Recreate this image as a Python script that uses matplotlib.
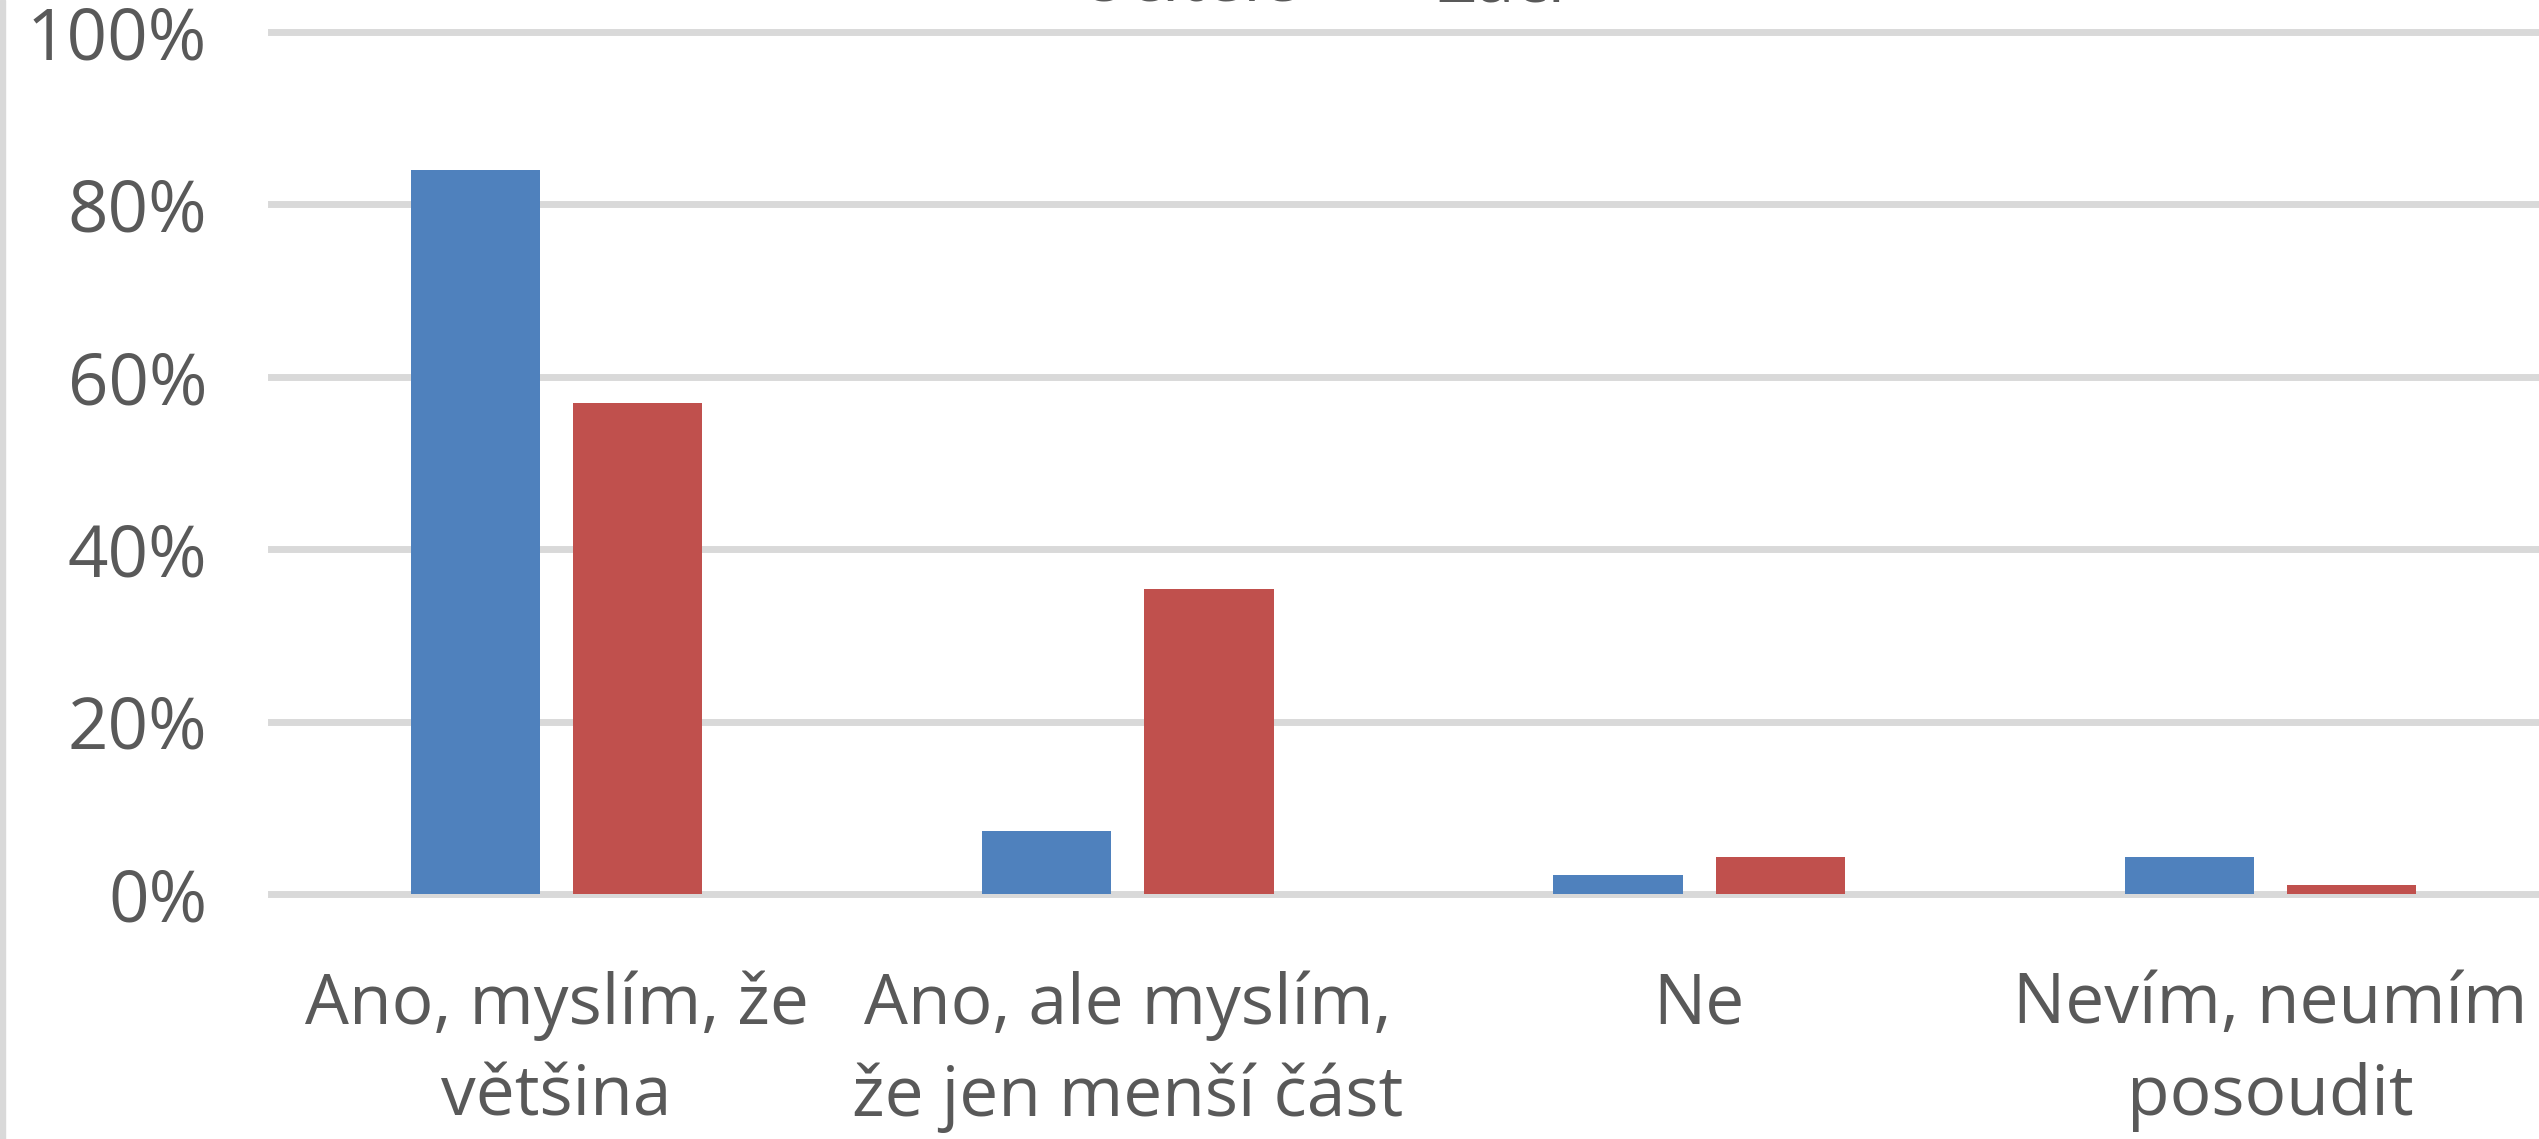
import matplotlib.pyplot as plt
import numpy as np
from matplotlib.patches import Rectangle

categories = ["Ano, myslím, že\nvětšina", "Ano, ale myslím,\nže jen menší část", "Ne", "Nevím, neumím\nposoudit"]
series_names = ["Učitelé", "Žáci"]
ucitele = [0.84, 0.073, 0.022, 0.043]
zaci = [0.57, 0.354, 0.043, 0.011]
y_ticks = [0, 0.2, 0.4, 0.6, 0.8, 1.0]
y_labels = ["0%", "20%", "40%", "60%", "80%", "100%"]

text_color = "#595959"
plt.rcParams["font.family"] = ["Open Sans", "DejaVu Sans"]

fig = plt.figure(figsize=(25.39, 11.39), dpi=100)
# the plot area runs a little past the right edge of the picture
ax = fig.add_axes([271 / 2539, 1 - 894 / 1139, 2285 / 2539, (894 - 32) / 1139])

x = np.arange(len(categories))
w = 0.226
ax.bar(x - 0.142, ucitele, width=w, color="#4F81BD", label=series_names[0], zorder=2)
ax.bar(x + 0.142, zaci, width=w, color="#C0504D", label=series_names[1], zorder=2)

ax.set_xlim(-0.5, len(categories) - 0.5)
ax.set_ylim(0, 1)
ax.set_yticks(y_ticks)
ax.set_yticklabels(y_labels)
ax.set_xticks(x)
ax.set_xticklabels(categories, linespacing=1.4)
ax.tick_params(axis="y", length=0, pad=46, labelsize=51, labelcolor=text_color)
ax.tick_params(axis="x", length=0, pad=55, labelsize=50, labelcolor=text_color)

ax.grid(axis="y", color="#D9D9D9", linewidth=5)
ax.set_axisbelow(True)
for gl in ax.get_ygridlines():
    gl.set_clip_on(False)
for s in ax.spines.values():
    s.set_visible(False)

# legend is cut off at the top of the picture, as in the original
fig.legend(loc="lower center", bbox_to_anchor=(0.507, 0.9835), ncol=2, frameon=False,
           fontsize=50, labelcolor=text_color, handlelength=0.5, handleheight=0.45,
           handletextpad=0.5, columnspacing=0.95, borderpad=0, borderaxespad=0)

# light border on the left edge
fig.add_artist(Rectangle((0, 0), 5 / 2539, 1, transform=fig.transFigure, color="#D9D9D9"))

plt.savefig("out.png", dpi=100)
